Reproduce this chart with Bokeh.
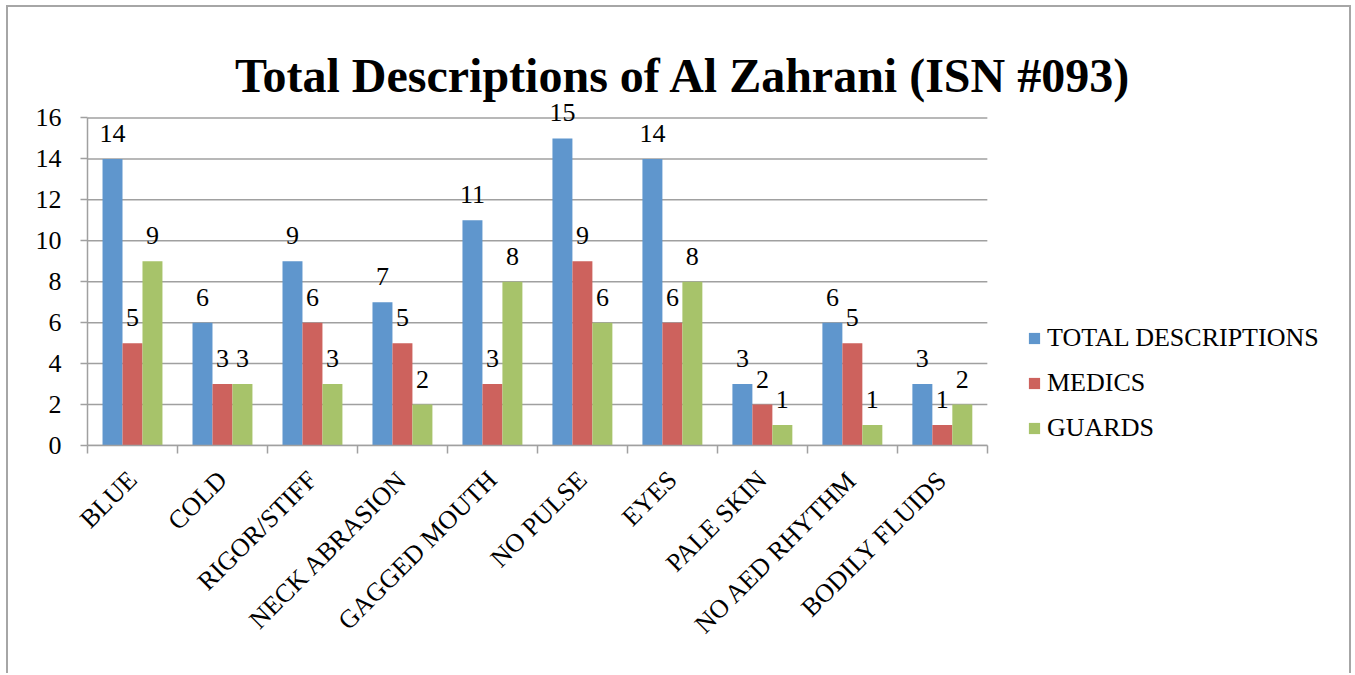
import numpy as np
from bokeh.plotting import figure
from bokeh.models import (Range1d, FixedTicker, LabelSet, ColumnDataSource,
                          Legend, LegendItem, Label)
from bokeh.core.properties import value
from bokeh.embed import file_html
from bokeh.resources import INLINE

# ---- data ----
categories = ["BLUE", "COLD", "RIGOR/STIFF", "NECK ABRASION", "GAGGED MOUTH",
              "NO PULSE", "EYES", "PALE SKIN", "NO AED RHYTHM", "BODILY FLUIDS"]
total_descriptions = [14, 6, 9, 7, 11, 15, 14, 3, 6, 3]
medics = [5, 3, 6, 5, 3, 9, 6, 2, 5, 1]
guards = [9, 3, 3, 2, 8, 6, 8, 1, 1, 2]
series_names = ["TOTAL DESCRIPTIONS", "MEDICS", "GUARDS"]
series_values = [total_descriptions, medics, guards]
colors = ["#5F96CD", "#CD625D", "#A7C36A"]
y_ticks = [0, 2, 4, 6, 8, 10, 12, 14, 16]
y_max = 16
title_text = "Total Descriptions of Al Zahrani (ISN #093)"

FONT = "Liberation Serif"
GRAY = "#A0A0A0"

n = len(categories)
centers = np.arange(n) + 0.5
bar_w = 0.222
offsets = [-bar_w, 0.0, bar_w]

# The data region (0..n, 0..16) is 897 x 326 px; the frame is extended to the
# right and upward so that the title, value labels and legend are not clipped.
x_ext = 14.047
y_ext = 21.153

p = figure(width=1345, height=668, x_range=Range1d(0, x_ext), y_range=Range1d(0, y_ext),
           output_backend="svg", toolbar_location=None,
           min_border_left=79, min_border_right=2,
           min_border_top=5, min_border_bottom=230)
p.outline_line_color = None
p.background_fill_color = "white"
p.border_fill_color = "white"
p.styles = {"border-top": "2px solid #A6A6A6", "border-left": "2px solid #A6A6A6",
            "border-right": "2px solid #A6A6A6",
            "margin-left": "6px", "margin-top": "5px"}

# horizontal grid lines, limited to the category area
p.segment(x0=0, x1=n, y0=y_ticks, y1=y_ticks, line_color=GRAY, line_width=1.5)

renderers = []
for name, vals, off, col in zip(series_names, series_values, offsets, colors):
    src = ColumnDataSource(dict(x=centers + off, top=vals,
                                label=[str(v) for v in vals]))
    r = p.vbar(x="x", top="top", bottom=0, width=bar_w, source=src,
               fill_color=col, line_color=None)
    renderers.append((name, r))
    ls = LabelSet(x="x", y="top", text="label", source=src,
                  text_font=value(FONT), text_font_size=value("26px"),
                  text_color="black", text_align="center",
                  text_baseline="alphabetic", y_offset=17)
    p.add_layout(ls)

# x axis
xt = FixedTicker(ticks=[float(c) for c in centers], minor_ticks=list(range(n + 1)))
p.xaxis.ticker = xt
p.xaxis.bounds = (0, n)
overrides = {}
for c, name in zip(centers, categories):
    overrides[float(c)] = name
    overrides[str(float(c))] = name
p.xaxis.major_label_overrides = overrides
p.xaxis.major_label_orientation = np.pi / 4
p.xaxis.major_tick_out = 0
p.xaxis.major_tick_in = 0
p.xaxis.major_tick_line_color = None
p.xaxis.minor_tick_out = 8
p.xaxis.minor_tick_in = 0
p.xaxis.minor_tick_line_color = GRAY
p.xaxis.minor_tick_line_width = 1.5
p.xaxis.major_label_standoff = 22

# y axis
p.yaxis.ticker = FixedTicker(ticks=y_ticks)
p.yaxis.bounds = (0, y_max)
p.yaxis.major_tick_out = 7
p.yaxis.major_tick_in = 0
p.yaxis.minor_tick_out = 0
p.yaxis.minor_tick_in = 0
p.yaxis.major_tick_line_color = GRAY
p.yaxis.major_tick_line_width = 1.5
p.yaxis.major_label_standoff = 19

for ax in (p.xaxis, p.yaxis):
    ax.axis_line_color = GRAY
    ax.axis_line_width = 1.5
    ax.major_label_text_font = FONT
    ax.major_label_text_font_size = "26px"
    ax.major_label_text_color = "black"

p.xgrid.visible = False
p.ygrid.visible = False

# title
p.add_layout(Label(x=6.622, y=18.06, text=title_text, text_font=FONT,
                   text_font_style="bold", text_font_size="48px",
                   text_align="center", text_baseline="alphabetic",
                   text_color="black"))

legend = Legend(items=[LegendItem(label=nm, renderers=[r]) for nm, r in renderers],
                location=(940, 2), padding=0, margin=0,
                border_line_color=None, background_fill_alpha=0,
                glyph_width=14, glyph_height=14, label_standoff=6, spacing=15,
                label_height=30,
                label_text_font=FONT, label_text_font_size="26px",
                label_text_color="black")
p.add_layout(legend)

open("out.html", "w").write(file_html(p, INLINE))
